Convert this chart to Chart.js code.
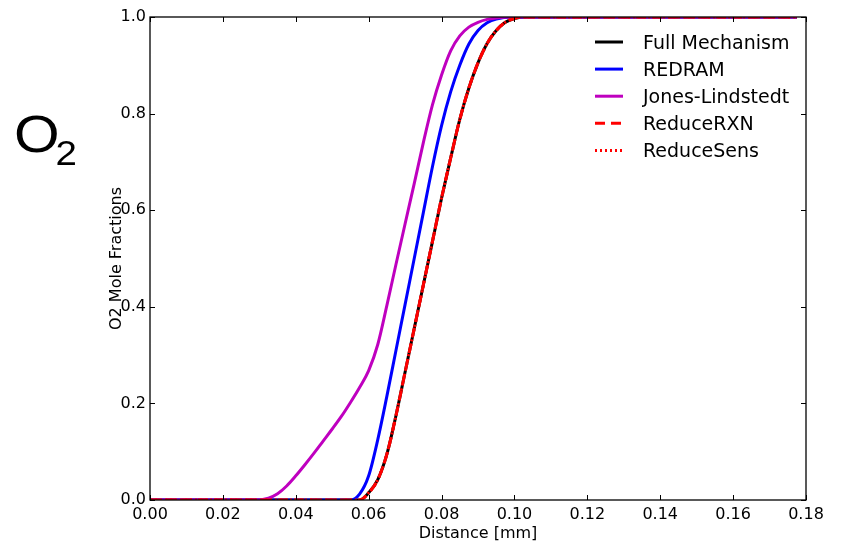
<!DOCTYPE html>
<html>
<head>
<meta charset="utf-8">
<script src="https://cdn.jsdelivr.net/npm/chart.js@4/dist/chart.umd.min.js"></script>
<style>
  html, body { margin: 0; padding: 0; background: #fff; }
  #wrap { position: relative; width: 841px; height: 544px; }
</style>
</head>
<body>
<div id="wrap"><canvas id="c" width="841" height="544"></canvas></div>
<script>
// Series names, in legend order
const seriesNames = ['Full Mechanism', 'REDRAM', 'Jones-Lindstedt', 'ReduceRXN', 'ReduceSens'];

// Distance [mm] and O2 mole fraction for each mechanism
const distFull = [0, 0.0400, 0.0575, 0.0600, 0.0625, 0.0650, 0.0675, 0.0700, 0.0725, 0.0750, 0.0775, 0.0800, 0.0825, 0.0850, 0.0875, 0.0900, 0.0925, 0.0950, 0.0975, 0.1000, 0.1035, 0.1200, 0.1775];
const o2Full   = [0, 0, 0, 0.015, 0.042, 0.095, 0.175, 0.265, 0.355, 0.445, 0.535, 0.625, 0.708, 0.788, 0.853, 0.905, 0.945, 0.972, 0.989, 0.997, 1.0, 1.0, 1.0];

const distRedram = [0, 0.0400, 0.0550, 0.0575, 0.0600, 0.0625, 0.0650, 0.0675, 0.0700, 0.0725, 0.0750, 0.0775, 0.0800, 0.0825, 0.0850, 0.0875, 0.0900, 0.0925, 0.0950, 0.0995, 0.1200, 0.1775];
const o2Redram   = [0, 0, 0, 0.012, 0.050, 0.125, 0.215, 0.310, 0.405, 0.500, 0.595, 0.690, 0.775, 0.845, 0.900, 0.944, 0.972, 0.988, 0.996, 1.0, 1.0, 1.0];

const distJones = [0, 0.0200, 0.0285, 0.0325, 0.0350, 0.0375, 0.0400, 0.0425, 0.0450, 0.0475, 0.0500, 0.0525, 0.0550, 0.0575, 0.0600, 0.0625, 0.0650, 0.0675, 0.0700, 0.0725, 0.0750, 0.0775, 0.0800, 0.0825, 0.0850, 0.0875, 0.0900, 0.0925, 0.0950, 0.0990, 0.1200, 0.1775];
const o2Jones   = [0, 0, 0, 0.004, 0.013, 0.029, 0.050, 0.073, 0.097, 0.122, 0.147, 0.173, 0.202, 0.233, 0.268, 0.322, 0.403, 0.488, 0.572, 0.655, 0.740, 0.818, 0.880, 0.930, 0.961, 0.979, 0.989, 0.995, 0.998, 1.0, 1.0, 1.0];

const distReduceRxn = [0, 0.0400, 0.0575, 0.0600, 0.0625, 0.0650, 0.0675, 0.0700, 0.0725, 0.0750, 0.0775, 0.0800, 0.0825, 0.0850, 0.0875, 0.0900, 0.0925, 0.0950, 0.0975, 0.1000, 0.1035, 0.1200, 0.1775];
const o2ReduceRxn   = [0, 0, 0, 0.015, 0.042, 0.095, 0.175, 0.265, 0.355, 0.445, 0.535, 0.625, 0.708, 0.788, 0.853, 0.905, 0.945, 0.972, 0.989, 0.997, 1.0, 1.0, 1.0];

const distReduceSens = [0, 0.0400, 0.0575, 0.0600, 0.0625, 0.0650, 0.0675, 0.0700, 0.0725, 0.0750, 0.0775, 0.0800, 0.0825, 0.0850, 0.0875, 0.0900, 0.0925, 0.0950, 0.0975, 0.1000, 0.1035, 0.1200, 0.1775];
const o2ReduceSens   = [0, 0, 0, 0.015, 0.042, 0.095, 0.175, 0.265, 0.355, 0.445, 0.535, 0.625, 0.708, 0.788, 0.853, 0.905, 0.945, 0.972, 0.989, 0.997, 1.0, 1.0, 1.0];

// Axis ticks
const xTickValues = [0, 0.02, 0.04, 0.06, 0.08, 0.10, 0.12, 0.14, 0.16, 0.18];
const yTickValues = [0, 0.2, 0.4, 0.6, 0.8, 1.0];

const FONT = '"DejaVu Sans", sans-serif';

function pts(xs, ys) { return xs.map((v, i) => ({ x: v, y: ys[i] })); }

function line(label, xs, ys, color, dash, order) {
  return {
    label, data: pts(xs, ys),
    borderColor: color, backgroundColor: color,
    borderWidth: 3, borderDash: dash, pointRadius: 0,
    fill: false, cubicInterpolationMode: 'monotone', order
  };
}

// Inward tick marks, box frame, legend and the species label
const decorations = {
  id: 'decorations',
  afterDatasetsDraw(chart) {
    const { ctx, chartArea: a, scales: { x, y } } = chart;
    ctx.save();
    ctx.strokeStyle = '#000';
    ctx.lineWidth = 1;
    ctx.beginPath();
    x.ticks.forEach(t => {
      const px = Math.round(x.getPixelForValue(t.value)) + 0.5;
      ctx.moveTo(px, a.bottom); ctx.lineTo(px, a.bottom - 5);
      ctx.moveTo(px, a.top); ctx.lineTo(px, a.top + 5);
    });
    y.ticks.forEach(t => {
      const py = Math.round(y.getPixelForValue(t.value)) + 0.5;
      ctx.moveTo(a.left, py); ctx.lineTo(a.left + 5, py);
      ctx.moveTo(a.right, py); ctx.lineTo(a.right - 5, py);
    });
    ctx.stroke();
    ctx.lineWidth = 1.3;
    ctx.strokeRect(a.left, a.top, a.right - a.left, a.bottom - a.top);

    // legend
    const hx0 = a.right - 211, hx1 = a.right - 183, tx = a.right - 163;
    ctx.font = '19px ' + FONT;
    ctx.textBaseline = 'alphabetic';
    ctx.textAlign = 'left';
    chart.data.datasets.forEach((ds, i) => {
      const ry = a.top + 25 + i * 27.1;
      ctx.save();
      ctx.strokeStyle = ds.borderColor;
      ctx.lineWidth = 3;
      ctx.setLineDash(ds.borderDash || []);
      ctx.beginPath();
      ctx.moveTo(hx0, ry); ctx.lineTo(hx1, ry);
      ctx.stroke();
      ctx.restore();
      ctx.fillStyle = '#000';
      ctx.fillText(ds.label, tx, ry + 7);
    });
    ctx.restore();
  },
  afterDraw(chart) {
    const { ctx } = chart;
    ctx.save();
    ctx.fillStyle = '#000';
    ctx.textBaseline = 'alphabetic';
    ctx.textAlign = 'left';
    ctx.translate(14, 152);
    ctx.scale(1.15, 1);
    ctx.font = '51px "Liberation Sans", Arial, sans-serif';
    ctx.fillText('O', 0, 0);
    ctx.restore();
    ctx.save();
    ctx.fillStyle = '#000';
    ctx.translate(55.5, 165);
    ctx.scale(1.1, 1);
    ctx.font = '35px "Liberation Sans", Arial, sans-serif';
    ctx.fillText('2', 0, 0);
    ctx.restore();
  }
};

new Chart(document.getElementById('c'), {
  type: 'line',
  data: {
    datasets: [
      line(seriesNames[0], distFull, o2Full, '#000000', [], 5),
      line(seriesNames[1], distRedram, o2Redram, '#0000ff', [], 4),
      line(seriesNames[2], distJones, o2Jones, '#bf00bf', [], 3),
      line(seriesNames[3], distReduceRxn, o2ReduceRxn, '#ff0000', [10, 6], 2),
      line(seriesNames[4], distReduceSens, o2ReduceSens, '#ff0000', [2, 3], 1)
    ]
  },
  options: {
    responsive: false,
    animation: false,
    devicePixelRatio: 1,
    layout: { padding: { left: 0, right: 35, top: 17, bottom: 0 } },
    plugins: { legend: { display: false }, tooltip: { enabled: false } },
    scales: {
      x: {
        type: 'linear', min: 0, max: 0.18,
        afterBuildTicks: s => { s.ticks = xTickValues.map(v => ({ value: v })); },
        afterFit: s => { s.height = 44; },
        grid: { display: false, drawTicks: false },
        border: { display: false },
        ticks: { color: '#000', font: { family: FONT, size: 16 }, padding: 5, maxRotation: 0,
                 callback: v => Number(v).toFixed(2) },
        title: { display: true, text: 'Distance [mm]', color: '#000',
                 font: { family: FONT, size: 16 }, padding: { top: 0, bottom: 1 } }
      },
      y: {
        type: 'linear', min: 0, max: 1,
        afterBuildTicks: s => { s.ticks = yTickValues.map(v => ({ value: v })); },
        afterFit: s => { s.width = 150; },
        grid: { display: false, drawTicks: false },
        border: { display: false },
        ticks: { color: '#000', font: { family: FONT, size: 16 }, padding: 4,
                 callback: v => Number(v).toFixed(1) },
        title: { display: true, text: 'O2 Mole Fractions', color: '#000',
                 font: { family: FONT, size: 16 }, padding: { top: 107, bottom: 0 } }
      }
    }
  },
  plugins: [decorations]
});
</script>
</body>
</html>
